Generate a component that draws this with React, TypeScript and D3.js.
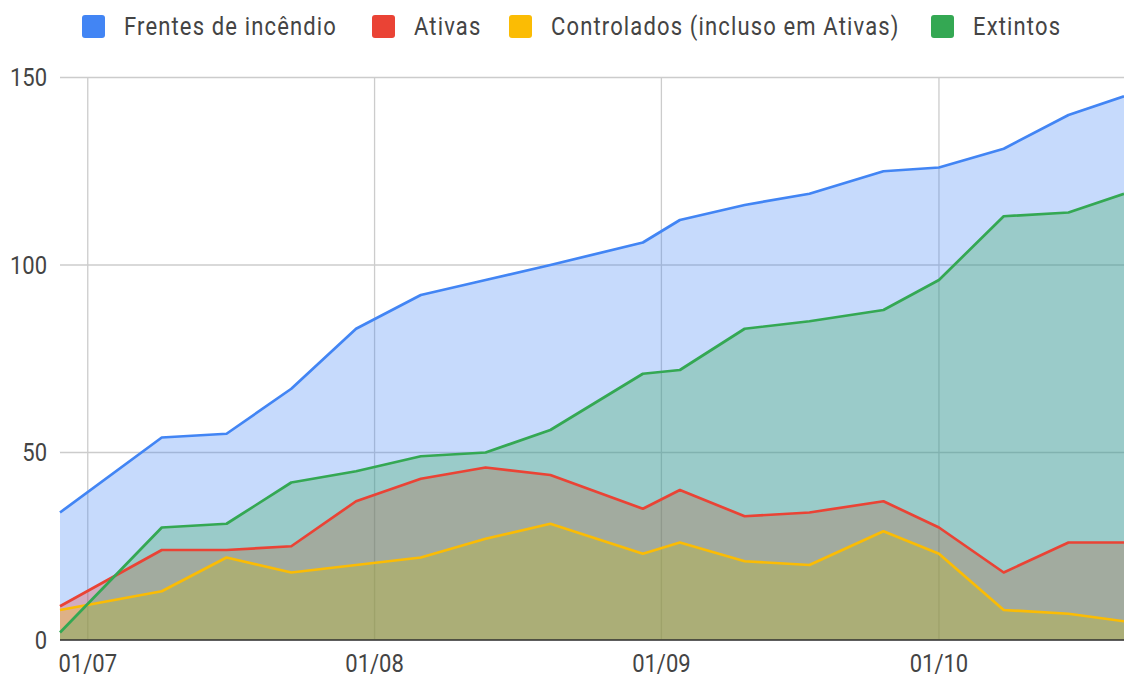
import React from "react";
import * as d3 from "d3";

const dates: string[] = [
  "2024-06-28", "2024-07-09", "2024-07-16", "2024-07-23", "2024-07-30",
  "2024-08-06", "2024-08-13", "2024-08-20", "2024-08-30", "2024-09-03",
  "2024-09-10", "2024-09-17", "2024-09-25", "2024-10-01", "2024-10-08",
  "2024-10-15", "2024-10-21",
];
const frentes: number[] = [34, 54, 55, 67, 83, 92, 96, 100, 106, 112, 116, 119, 125, 126, 131, 140, 145];
const ativas: number[] = [9, 24, 24, 25, 37, 43, 46, 44, 35, 40, 33, 34, 37, 30, 18, 26, 26];
const controlados: number[] = [8, 13, 22, 18, 20, 22, 27, 31, 23, 26, 21, 20, 29, 23, 8, 7, 5];
const extintos: number[] = [2, 30, 31, 42, 45, 49, 50, 56, 71, 72, 83, 85, 88, 96, 113, 114, 119];

const seriesNames: string[] = ["Frentes de incêndio", "Ativas", "Controlados (incluso em Ativas)", "Extintos"];
const seriesColors: string[] = ["#4285F4", "#EA4335", "#FBBC04", "#34A853"];
const yTicks: number[] = [0, 50, 100, 150];
const xTickDates: string[] = ["2024-07-01", "2024-08-01", "2024-09-01", "2024-10-01"];
const xTickLabels: string[] = ["01/07", "01/08", "01/09", "01/10"];
const xDomain: string[] = ["2024-06-28", "2024-10-21"];
const legendX: number[] = [82, 372, 509, 931];

const W = 1124;
const H = 677;
const left = 60;
const right = 1124;
const top = 77.5;
const bottom = 640;
const FONT = "Roboto, 'Noto Sans', sans-serif";
const SY = 1.16;

export default function App() {
  const parse = d3.utcParse("%Y-%m-%d");
  const xs = dates.map((d) => parse(d) as Date);
  const x = d3
    .scaleUtc()
    .domain(xDomain.map((d) => parse(d) as Date))
    .range([left, right]);
  const y = d3.scaleLinear().domain([0, 150]).range([bottom, top]);

  const all = [frentes, ativas, controlados, extintos];

  const area = d3
    .area<number>()
    .x((_, i) => x(xs[i]))
    .y0(y(0))
    .y1((v) => y(v));
  const line = d3
    .line<number>()
    .x((_, i) => x(xs[i]))
    .y((v) => y(v));

  return (
    <svg
      width={W}
      height={H}
      style={{ position: "absolute", left: 0, top: 0, background: "#fff" }}
    >
      <rect x={0} y={0} width={W} height={H} fill="#fff" />
      {yTicks.map((t) => (
        <line key={"gy" + t} x1={left} x2={right} y1={y(t)} y2={y(t)} stroke="#cccccc" strokeWidth={1.3} />
      ))}
      {xTickDates.map((d) => {
        const px = x(parse(d) as Date);
        return <line key={"gx" + d} x1={px} x2={px} y1={top} y2={bottom} stroke="#cccccc" strokeWidth={1.3} />;
      })}
      {all.map((s, i) => (
        <path key={"a" + i} d={area(s) || ""} fill={seriesColors[i]} fillOpacity={0.3} stroke="none" />
      ))}
      {all.map((s, i) => (
        <path
          key={"l" + i}
          d={line(s) || ""}
          fill="none"
          stroke={seriesColors[i]}
          strokeWidth={2.7}
          strokeLinejoin="round"
        />
      ))}
      <line x1={left} x2={right} y1={bottom} y2={bottom} stroke="#333" strokeWidth={1.5} />
      {yTicks.map((t) => (
        <text
          key={"ty" + t}
          transform={`translate(47, ${y(t)}) scale(1, ${SY})`}
          textAnchor="end"
          dominantBaseline="central"
          fontFamily={FONT}
          fontSize={22}
          fill="#444"
        >
          {t}
        </text>
      ))}
      {xTickDates.map((d, i) => (
        <text
          key={"tx" + d}
          transform={`translate(${x(parse(d) as Date)}, 672) scale(1, ${SY})`}
          textAnchor="middle"
          fontFamily={FONT}
          fontSize={22}
          fill="#444"
        >
          {xTickLabels[i]}
        </text>
      ))}
      {seriesNames.map((n, i) => (
        <g key={"lg" + i}>
          <rect x={legendX[i]} y={15} width={23} height={23} rx={3} fill={seriesColors[i]} />
          <text
            transform={`translate(${legendX[i] + 42}, 26.5) scale(1, ${SY})`}
            dominantBaseline="central"
            fontFamily={FONT}
            fontSize={22}
            letterSpacing={1.15}
            fill="#444"
          >
            {n}
          </text>
        </g>
      ))}
    </svg>
  );
}
